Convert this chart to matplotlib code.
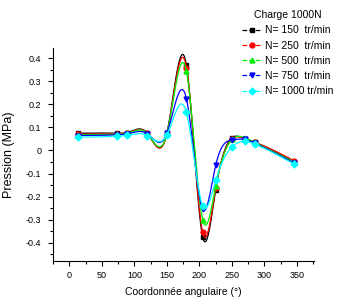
import numpy as np
import matplotlib.pyplot as plt
from matplotlib.ticker import MultipleLocator, FuncFormatter

# Angular positions (deg) and pressures (MPa)
angles = [14, 74, 89, 120, 150, 180, 205, 225, 250, 270, 285, 346]
p_150 = [0.075, 0.075, 0.078, 0.075, 0.075, 0.37, -0.375, -0.17, 0.055, 0.05, 0.035, -0.05]
p_250 = [0.070, 0.072, 0.075, 0.074, 0.072, 0.36, -0.355, -0.165, 0.05, 0.05, 0.035, -0.045]
p_500 = [0.068, 0.070, 0.074, 0.073, 0.072, 0.345, -0.30, -0.155, 0.048, 0.055, 0.035, -0.05]
p_750 = [0.065, 0.068, 0.072, 0.072, 0.074, 0.225, -0.255, -0.065, 0.045, 0.048, 0.032, -0.055]
p_1000 = [0.058, 0.062, 0.066, 0.065, 0.068, 0.165, -0.24, -0.13, 0.015, 0.04, 0.028, -0.06]

labels = ["N= 150  tr/min", "N= 250  tr/min", "N= 500  tr/min", "N= 750  tr/min", "N= 1000 tr/min"]
colors = ["black", "red", "#00ee00", "blue", "cyan"]
markers = ["s", "o", "^", "v", "D"]


def natural_spline(x, y, n=400):
    # natural cubic spline through the points (like Origin's spline connection)
    x = np.asarray(x, float)
    y = np.asarray(y, float)
    k = len(x)
    h = np.diff(x)
    A = np.zeros((k, k))
    b = np.zeros(k)
    A[0, 0] = A[-1, -1] = 1
    for i in range(1, k - 1):
        A[i, i - 1] = h[i - 1]
        A[i, i] = 2 * (h[i - 1] + h[i])
        A[i, i + 1] = h[i]
        b[i] = 6 * ((y[i + 1] - y[i]) / h[i] - (y[i] - y[i - 1]) / h[i - 1])
    M = np.linalg.solve(A, b)
    xs = np.linspace(x[0], x[-1], n)
    idx = np.clip(np.searchsorted(x, xs) - 1, 0, k - 2)
    x0, x1 = x[idx], x[idx + 1]
    hh = x1 - x0
    t0, t1 = x1 - xs, xs - x0
    ys = (M[idx] * t0 ** 3 + M[idx + 1] * t1 ** 3) / (6 * hh) \
        + (y[idx] / hh - M[idx] * hh / 6) * t0 + (y[idx + 1] / hh - M[idx + 1] * hh / 6) * t1
    return xs, ys


plt.rcParams['font.family'] = ["Liberation Sans", "DejaVu Sans"]

fig = plt.figure(figsize=(3.42, 2.98), dpi=100)
ax = fig.add_axes([0.155, 0.124, 0.763, 0.715])

for ys, lab, c, m in zip([p_150, p_250, p_500, p_750, p_1000], labels, colors, markers):
    sx, sy = natural_spline(angles, ys)
    ax.plot(sx, sy, color=c, lw=0.9)
    ax.plot(angles, ys, ls="none", marker=m, color=c, ms=3.5)
    # legend proxy
    ax.plot([], [], color=c, lw=0.9, ls="--", marker=m, ms=3.5, label=lab)

ax.set_xlim(-25, 376)
ax.set_ylim(-0.48, 0.445)
ax.xaxis.set_major_locator(MultipleLocator(50))
ax.xaxis.set_minor_locator(MultipleLocator(25))
ax.yaxis.set_major_locator(MultipleLocator(0.1))
ax.yaxis.set_minor_locator(MultipleLocator(0.05))
ax.yaxis.set_major_formatter(FuncFormatter(lambda v, p: "0" if abs(v) < 1e-9 else f"{v:.1f}"))
ax.spines["top"].set_visible(False)
ax.spines["right"].set_visible(False)
ax.tick_params(which="major", length=3.5, width=0.8, labelsize=6.5, direction="out")
ax.tick_params(which="minor", length=2, width=0.8, direction="out")
ax.tick_params(axis="y", pad=5)

ax.set_xlabel("Coordonnée angulaire (°)", fontsize=7.5, labelpad=5)
ax.set_ylabel("Pression (MPa)", fontsize=9, labelpad=8)

leg = ax.legend(loc="upper left", bbox_to_anchor=(238 / 342, 1 - 6 / 298),
                bbox_transform=fig.transFigure, frameon=False, title="Charge 1000N",
                prop={"size": 7.5}, title_fontproperties={"size": 7.5},
                handlelength=1.9, handletextpad=0.3, labelspacing=0.5, borderaxespad=0)

fig.savefig("out.png", dpi=100)
